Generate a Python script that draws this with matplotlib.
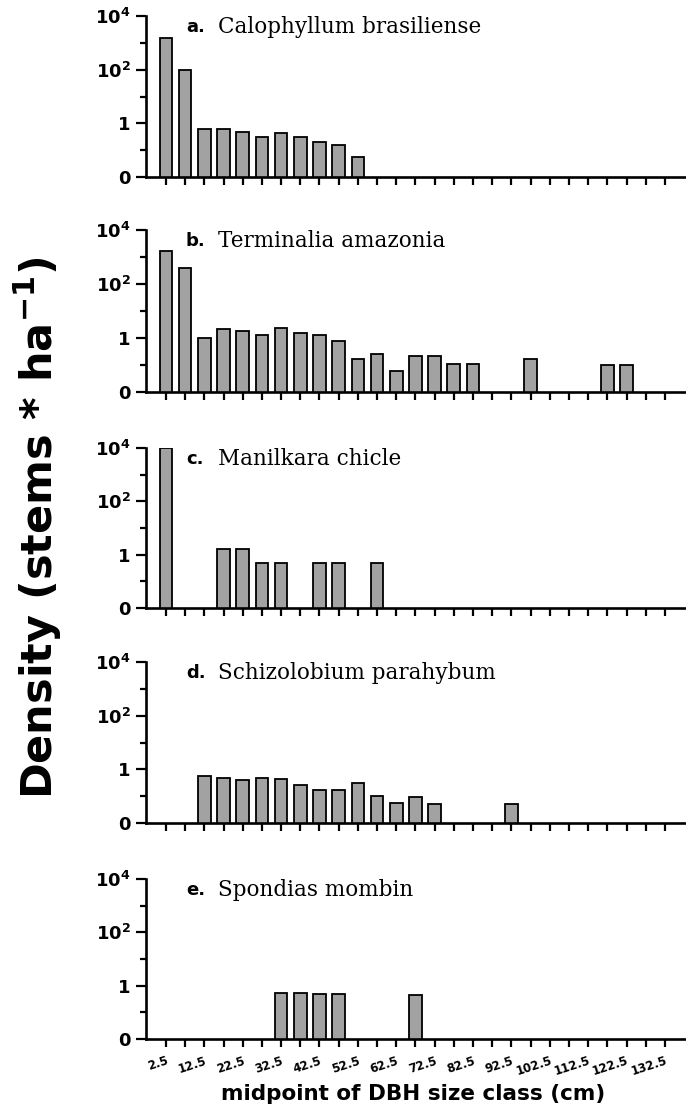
import numpy as np
import matplotlib.pyplot as plt

# DBH size class midpoints (cm)
size_class = [2.5, 7.5, 12.5, 17.5, 22.5, 27.5, 32.5, 37.5, 42.5, 47.5,
              52.5, 57.5, 62.5, 67.5, 72.5, 77.5, 82.5, 87.5, 92.5, 97.5,
              102.5, 107.5, 112.5, 117.5, 122.5, 127.5, 132.5]

# density (stems / ha), 0 = no stems in that class
calophyllum = [1500, 98, 0.61, 0.61, 0.49, 0.32, 0.42, 0.32, 0.21, 0.16,
               0.056, 0, 0, 0, 0, 0, 0, 0, 0, 0,
               0, 0, 0, 0, 0, 0, 0]
terminalia = [1660, 407, 1.0, 2.2, 1.8, 1.3, 2.3, 1.5, 1.3, 0.78,
              0.17, 0.26, 0.06, 0.22, 0.21, 0.105, 0.105, 0, 0, 0.16,
              0, 0, 0, 0.097, 0.097, 0, 0]
manilkara = [10000, 0, 0, 1.6, 1.6, 0.5, 0.5, 0, 0.5, 0.5,
             0, 0.49, 0, 0, 0, 0, 0, 0, 0, 0,
             0, 0, 0, 0, 0, 0, 0]
schizolobium = [0, 0, 0.57, 0.49, 0.39, 0.49, 0.44, 0.26, 0.17, 0.17,
                0.32, 0.10, 0.055, 0.095, 0.052, 0, 0, 0, 0.052, 0,
                0, 0, 0, 0, 0, 0, 0]
spondias = [0, 0, 0, 0, 0, 0, 0.52, 0.52, 0.49, 0.49,
            0, 0, 0, 0.45, 0, 0, 0, 0, 0, 0,
            0, 0, 0, 0, 0, 0, 0]

panel_letters = ["a.", "b.", "c.", "d.", "e."]
species_names = ["Calophyllum brasiliense", "Terminalia amazonia",
                 "Manilkara chicle", "Schizolobium parahybum",
                 "Spondias mombin"]
series = [calophyllum, terminalia, manilkara, schizolobium, spondias]

y_ticks = [0.01, 1, 100, 10000]
y_ticklabels = ["0", "1", r"$\mathbf{10^2}$", r"$\mathbf{10^4}$"]

W, H = 686, 1114
fig = plt.figure(figsize=(W / 100, H / 100), dpi=100)

# panel top / bottom in pixels
tops = [16, 230, 448, 662, 879]
bottoms = [177, 392, 608, 823, 1039]
left_px = 146

x = np.array(size_class)
for i, (vals, letter, name) in enumerate(zip(series, panel_letters, species_names)):
    ax = fig.add_axes([left_px / W, 1 - bottoms[i] / H,
                       (W - left_px) / W, (bottoms[i] - tops[i]) / H])
    v = np.array(vals, dtype=float)
    m = v > 0
    ax.set_yscale("log")
    ax.bar(x[m], v[m], width=3.3, color="#a2a2a2", edgecolor="black",
           linewidth=1.3)
    ax.set_ylim(0.01, 10000)
    ax.set_xlim(-2.7, 138)

    ax.set_yticks(y_ticks)
    ax.set_yticklabels(y_ticklabels)
    ax.set_yticks([0.1, 10, 1000], minor=True)
    ax.yaxis.set_minor_formatter(plt.NullFormatter())
    for t in ax.get_yticklabels():
        t.set_fontweight("bold")
        t.set_fontsize(13)

    ax.set_xticks(size_class)
    if i == 4:
        labs = [f"{s:g}" if k % 2 == 0 else "" for k, s in enumerate(size_class)]
        ax.set_xticklabels(labs, rotation=18, ha="right",
                           rotation_mode="anchor", fontsize=8.5,
                           fontweight="bold")
    else:
        ax.set_xticklabels([])

    for side in ["top", "right"]:
        ax.spines[side].set_visible(False)
    for side in ["left", "bottom"]:
        ax.spines[side].set_linewidth(1.9)
    ax.tick_params(axis="y", which="major", length=7, width=1.6, pad=4)
    ax.tick_params(axis="y", which="minor", length=4, width=1.6)
    ax.tick_params(axis="x", which="major", length=6, width=1.6, pad=5)

    ax.text(0.074, 0.93, letter, transform=ax.transAxes, ha="left",
            va="center", fontsize=13, fontweight="bold",
            family="DejaVu Sans")
    ax.text(0.133, 0.93, name, transform=ax.transAxes, ha="left",
            va="center", fontsize=15.5, family="DejaVu Serif")

fig.text(38 / W, 1 - 528 / H, r"Density (stems * ha$^{\mathbf{-1}}$)",
         rotation=90, ha="center", va="center", fontsize=31,
         fontweight="bold")
fig.text(413 / W, 1 - 1094 / H, "midpoint of DBH size class (cm)",
         ha="center", va="center", fontsize=15.5, fontweight="bold")

fig.savefig("out.png", dpi=100)
